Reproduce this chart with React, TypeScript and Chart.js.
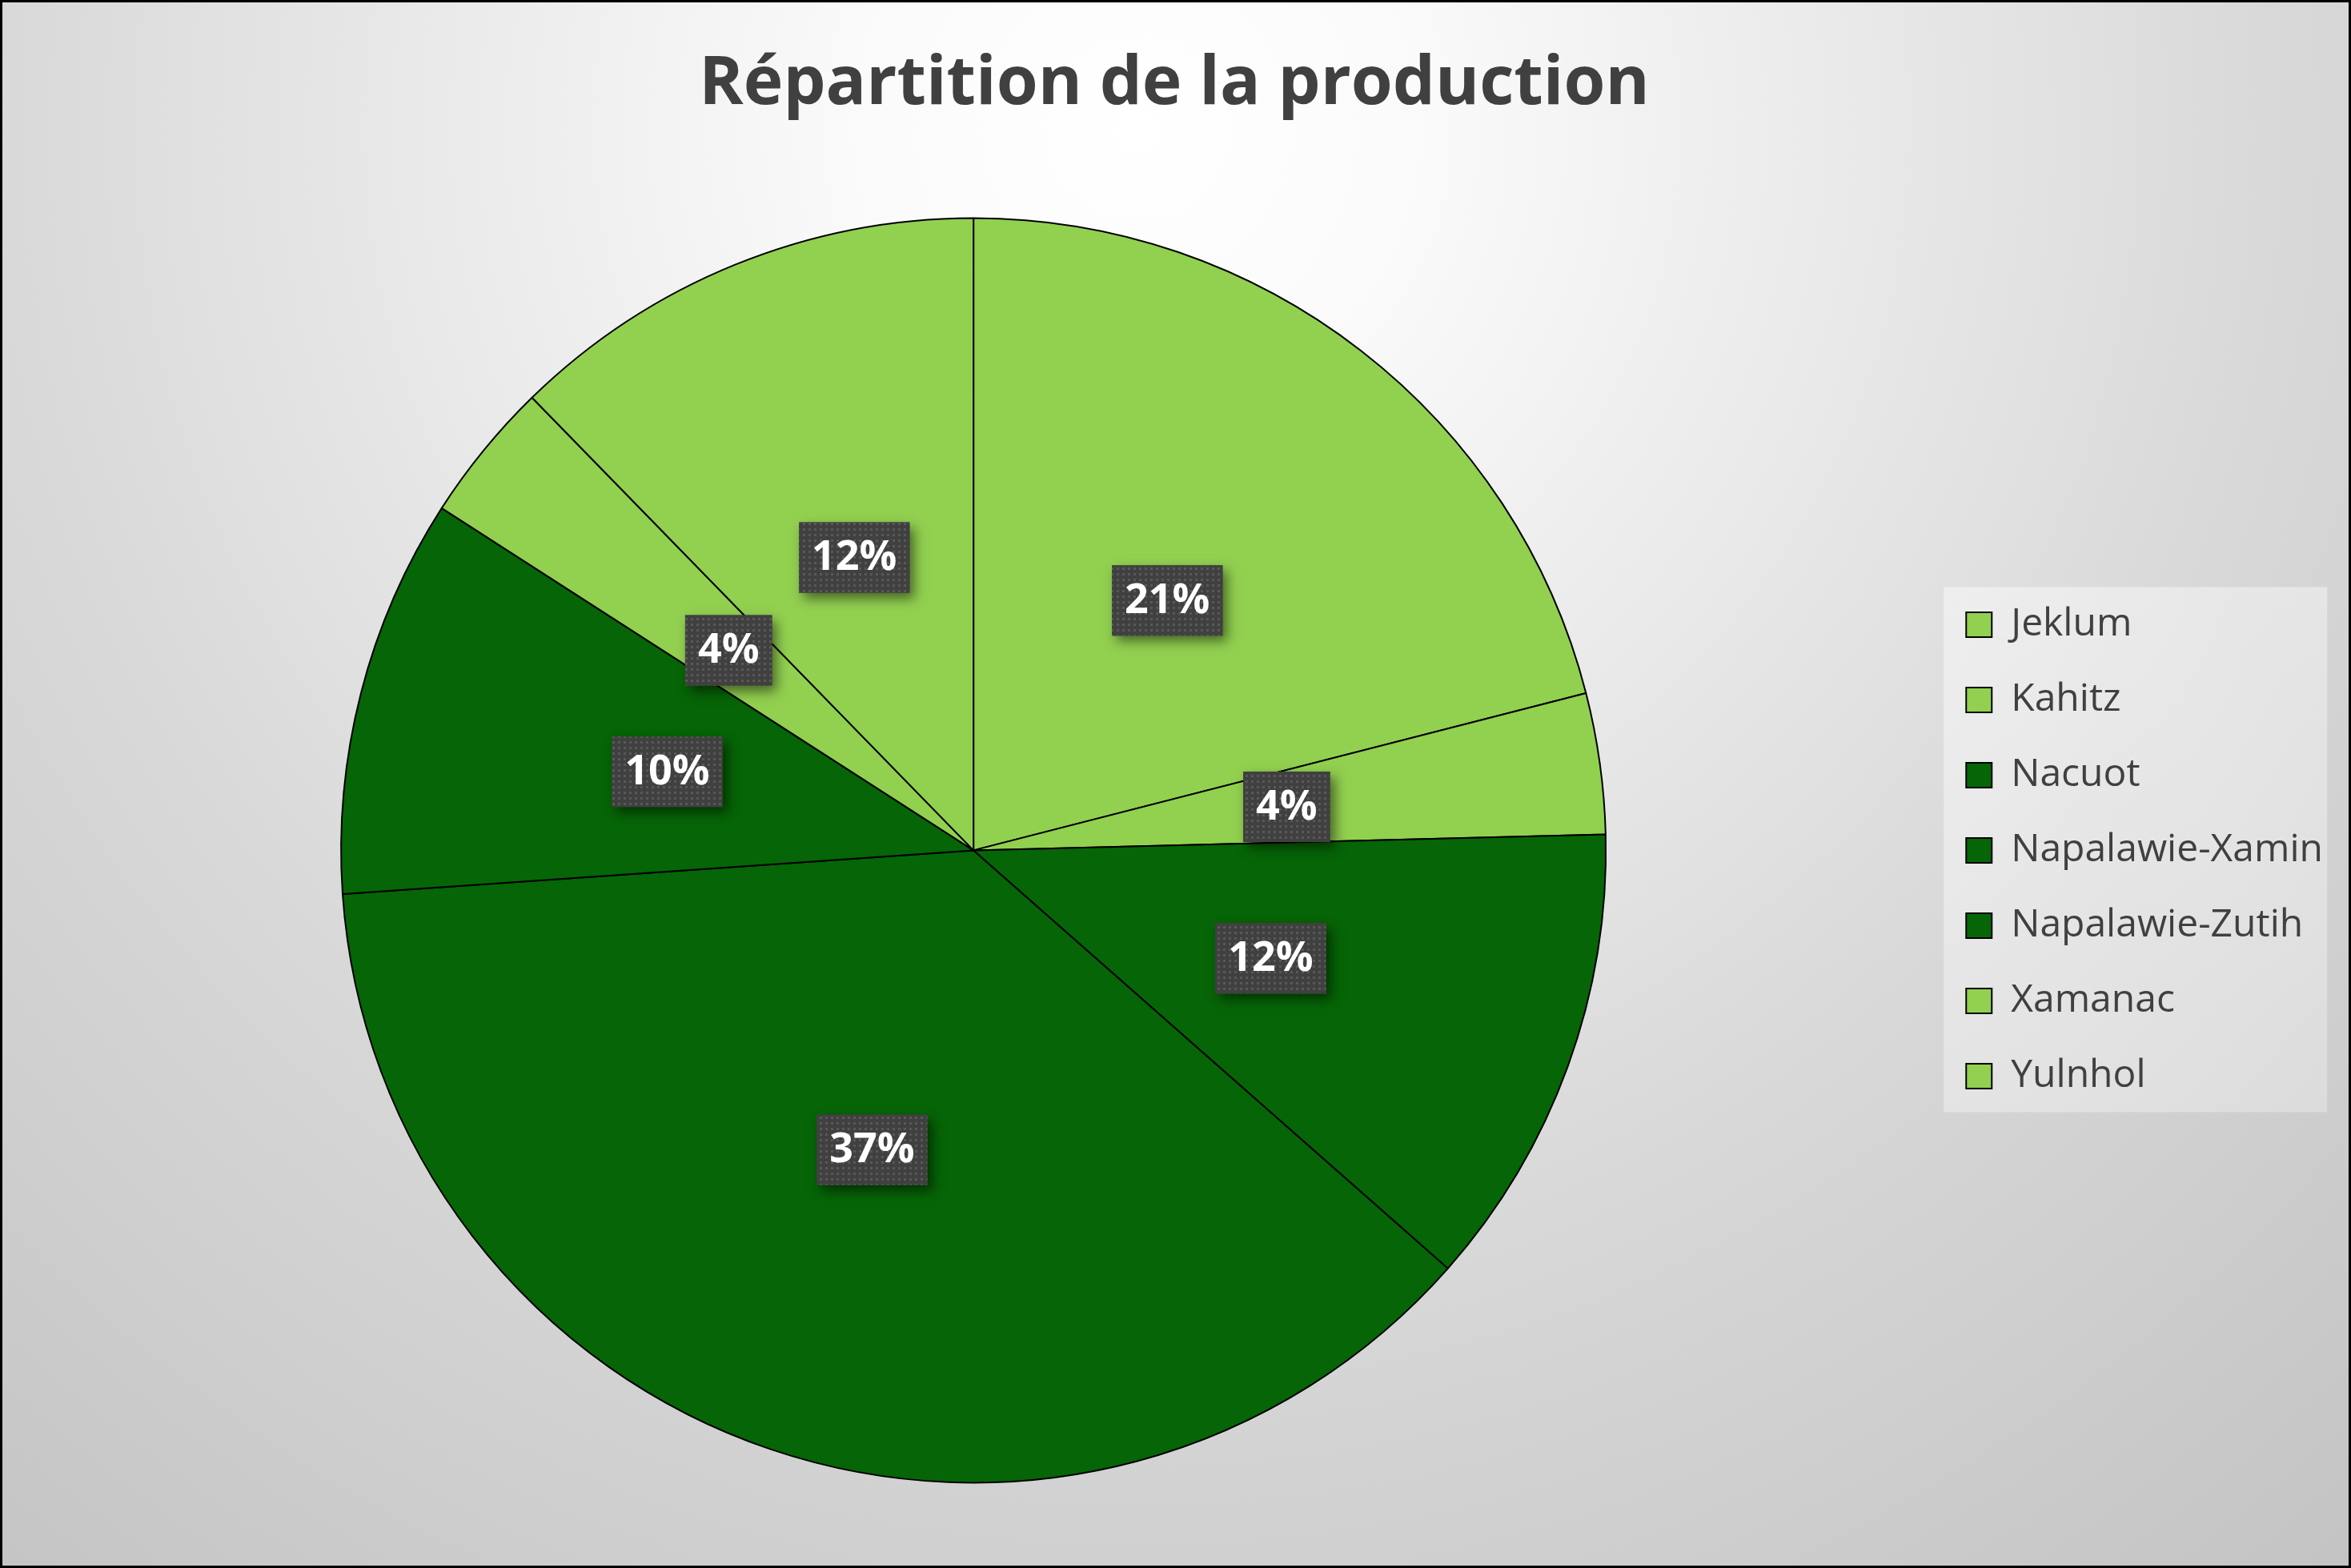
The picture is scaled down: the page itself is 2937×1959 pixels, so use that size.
import React, { useEffect, useRef } from 'react';
import { Chart, registerables } from 'chart.js';

Chart.register(...registerables);

const categories = ['Jeklum', 'Kahitz', 'Nacuot', 'Napalawie-Xamin', 'Napalawie-Zutih', 'Xamanac', 'Yulnhol'];
const values = [21.0, 3.6, 11.9, 37.4, 10.2, 3.6, 12.3];
const sliceColors = ['#92D050', '#92D050', '#066506', '#066506', '#066506', '#92D050', '#92D050'];
const titleText = 'Répartition de la production';

const W = 2937;
const H = 1959;

function makePattern(ctx: CanvasRenderingContext2D) {
  const c = document.createElement('canvas');
  c.width = 7;
  c.height = 7;
  const p = c.getContext('2d')!;
  p.fillStyle = '#404040';
  p.fillRect(0, 0, 7, 7);
  p.fillStyle = '#585858';
  p.fillRect(2, 2, 3, 3);
  return ctx.createPattern(c, 'repeat');
}

const backgroundPlugin = {
  id: 'bgPlugin',
  beforeDraw(chart: any) {
    const ctx = chart.ctx as CanvasRenderingContext2D;
    ctx.save();
    const g = ctx.createRadialGradient(1420, 160, 0, 1420, 160, 2400);
    g.addColorStop(0, '#ffffff');
    g.addColorStop(0.15, '#fafafa');
    g.addColorStop(0.6, '#d8d8d8');
    g.addColorStop(1, '#c2c2c2');
    ctx.fillStyle = g;
    ctx.fillRect(0, 0, W, H);
    ctx.lineWidth = 3;
    ctx.strokeStyle = '#000000';
    ctx.strokeRect(1.5, 1.5, W - 3, H - 3);

    const lg = chart.legend;
    if (lg && lg.legendHitBoxes && lg.legendHitBoxes.length) {
      const hb = lg.legendHitBoxes;
      const top = hb[0].top - 23;
      const last = hb[hb.length - 1];
      const bottom = last.top + last.height + 21;
      const left = lg.left + 18;
      const right = lg.left + 497;
      const lgGrad = ctx.createLinearGradient(left, top, right, bottom);
      lgGrad.addColorStop(0, 'rgba(255,255,255,0.45)');
      lgGrad.addColorStop(1, 'rgba(255,255,255,0.3)');
      ctx.fillStyle = lgGrad;
      ctx.fillRect(left, top, right - left, bottom - top);
    }
    ctx.restore();
  },
};

const labelPlugin = {
  id: 'pctLabels',
  afterDatasetsDraw(chart: any) {
    const ctx = chart.ctx as CanvasRenderingContext2D;
    const meta = chart.getDatasetMeta(0);
    const data = chart.data.datasets[0].data as number[];
    const total = data.reduce((a, b) => a + b, 0);
    const pattern = makePattern(ctx);
    ctx.save();
    ctx.font = 'bold 52px "Open Sans"';
    meta.data.forEach((arc: any, i: number) => {
      const pos = arc.tooltipPosition(false);
      const txt = Math.round((data[i] / total) * 100) + '%';
      const tw = ctx.measureText(txt).width;
      const w = tw + 32;
      const h = 88;
      const bx = pos.x - w / 2;
      const by = pos.y - h / 2;
      ctx.save();
      ctx.shadowColor = 'rgba(0,0,0,0.5)';
      ctx.shadowBlur = 14;
      ctx.shadowOffsetX = 6;
      ctx.shadowOffsetY = 7;
      ctx.fillStyle = '#404040';
      ctx.fillRect(bx, by, w, h);
      ctx.restore();
      if (pattern) {
        ctx.fillStyle = pattern;
        ctx.fillRect(bx, by, w, h);
      }
      ctx.fillStyle = '#ffffff';
      ctx.textAlign = 'center';
      ctx.textBaseline = 'middle';
      ctx.fillText(txt, pos.x, pos.y + 1);
    });
    ctx.restore();
  },
};

export default function App() {
  const ref = useRef<HTMLCanvasElement | null>(null);

  useEffect(() => {
    document.body.style.margin = '0';
    const canvas = ref.current!;
    const chart = new Chart(canvas, {
      type: 'pie',
      data: {
        labels: categories,
        datasets: [
          {
            data: values,
            backgroundColor: sliceColors,
            borderColor: '#000000',
            borderWidth: 2,
            radius: 790,
          } as any,
        ],
      },
      options: {
        responsive: false,
        animation: false,
        devicePixelRatio: 1,
        layout: { padding: { top: 0, left: 22, right: 25, bottom: 35 } },
        plugins: {
          title: {
            display: true,
            text: titleText,
            color: '#404040',
            font: { family: '"Open Sans"', size: 84, weight: 'bold', lineHeight: 1.2 },
            padding: { top: 56, bottom: 44 },
          },
          legend: {
            display: true,
            position: 'right',
            fullSize: false,
            labels: {
              color: '#404040',
              font: { family: '"Open Sans"', size: 48, lineHeight: 1.2 },
              boxWidth: 32,
              boxHeight: 31,
              padding: 46,
            },
          },
          tooltip: { enabled: false },
        },
      },
      plugins: [backgroundPlugin, labelPlugin],
    });
    return () => chart.destroy();
  }, []);

  return (
    <div style={{ width: W, height: H, position: 'relative' }}>
      <canvas ref={ref} width={W} height={H} style={{ display: 'block', width: W, height: H }} />
    </div>
  );
}
